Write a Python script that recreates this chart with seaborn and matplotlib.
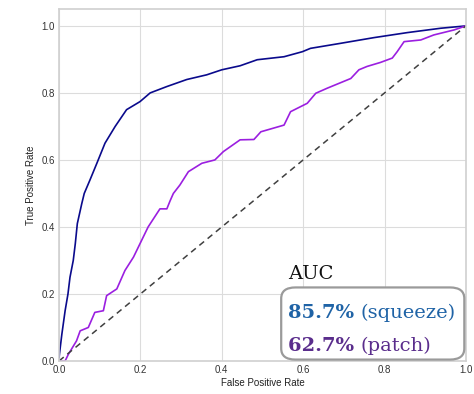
import matplotlib
matplotlib.use("Agg")
import matplotlib.pyplot as plt
import seaborn as sns
import pandas as pd
from matplotlib.patches import FancyBboxPatch

# ROC curve points
squeeze_fpr = [0.0, 0.0, 0.007, 0.015, 0.022, 0.027, 0.035, 0.040, 0.045, 0.056, 0.062, 0.076, 0.093, 0.113,
               0.138, 0.166, 0.199, 0.224, 0.265, 0.314, 0.363, 0.40, 0.445, 0.487, 0.553,
               0.598, 0.618, 0.692, 0.774, 0.856, 0.938, 1.0]
squeeze_tpr = [0.0, 0.02, 0.08, 0.15, 0.20, 0.25, 0.30, 0.35, 0.41, 0.47, 0.50, 0.54, 0.59, 0.65,
               0.70, 0.75, 0.774, 0.80, 0.819, 0.84, 0.854, 0.869, 0.881, 0.899, 0.908,
               0.923, 0.933, 0.948, 0.965, 0.98, 0.993, 1.0]

patch_fpr = [0.0, 0.015, 0.023, 0.043, 0.052, 0.072, 0.088, 0.109, 0.117, 0.142, 0.162, 0.183,
             0.203, 0.219, 0.248, 0.265, 0.273, 0.281, 0.297, 0.318, 0.351, 0.383, 0.404,
             0.445, 0.479, 0.496, 0.553, 0.569, 0.61, 0.631, 0.659, 0.717, 0.737, 0.757,
             0.79, 0.819, 0.831, 0.848, 0.889, 0.921, 0.971, 1.0]
patch_tpr = [0.0, 0.0, 0.02, 0.06, 0.09, 0.10, 0.145, 0.15, 0.195, 0.215, 0.27, 0.31,
             0.36, 0.40, 0.454, 0.454, 0.478, 0.50, 0.525, 0.565, 0.59, 0.60, 0.625,
             0.66, 0.661, 0.684, 0.704, 0.744, 0.769, 0.799, 0.814, 0.843, 0.869, 0.879,
             0.891, 0.904, 0.923, 0.953, 0.958, 0.973, 0.988, 1.0]

chance = [0.0, 1.0]
x_ticks = [0.0, 0.2, 0.4, 0.6, 0.8, 1.0]
auc_title = "AUC"
auc_values = ["85.7%", "62.7%"]
auc_names = ["(squeeze)", "(patch)"]

sns.set_style("whitegrid", {"grid.color": "#dcdcdc", "axes.edgecolor": "#d0d0d0"})
plt.rcParams['font.family'] = ['Liberation Sans', 'DejaVu Sans']

fig = plt.figure(figsize=(4.74, 3.94), dpi=100)
ax = fig.add_axes([0.1245, 0.0838, 0.8585, 0.893])

df_s = pd.DataFrame({"fpr": squeeze_fpr, "tpr": squeeze_tpr})
df_p = pd.DataFrame({"fpr": patch_fpr, "tpr": patch_tpr})
sns.lineplot(data=df_s, x="fpr", y="tpr", sort=False, color="#0a0a8c", lw=1.2, ax=ax)
sns.lineplot(data=df_p, x="fpr", y="tpr", sort=False, color="#9b1fe0", lw=1.2, ax=ax)
ax.plot(chance, chance, color="#404040", ls=(0, (4, 3)), lw=1.1)

ax.set_xlim(0, 1)
ax.set_ylim(0, 1.05)
ax.set_xticks(x_ticks)
ax.set_yticks(x_ticks)
ax.tick_params(labelsize=7, colors="#333333", length=0, pad=3)
ax.set_xlabel("False Positive Rate", fontsize=7, color="#222222", labelpad=2)
ax.set_ylabel("True Positive Rate", fontsize=7, color="#222222", labelpad=4)
for s in ax.spines.values():
    s.set_color("#d0d0d0")
    s.set_linewidth(1.2)

box = FancyBboxPatch((0.546, 0.004), 0.45, 0.205, boxstyle="round,pad=0,rounding_size=0.035",
                     transform=ax.transAxes, facecolor="white", edgecolor="#9a9a9a",
                     lw=1.6, zorder=5, mutation_aspect=0.9)
ax.add_patch(box)
serif = ['DejaVu Serif']
ax.text(0.563, 0.232, auc_title, transform=ax.transAxes, fontsize=14, family=serif,
        color="#111111", zorder=6)
colors = ["#1f63a6", "#5a2d8c"]
ys = [0.122, 0.029]
for v, n, c, y in zip(auc_values, auc_names, colors, ys):
    t = ax.text(0.563, y, v + " ", transform=ax.transAxes, fontsize=14, family=serif,
                fontweight="bold", color=c, zorder=6)
    fig.canvas.draw()
    bb = t.get_window_extent()
    x_end = ax.transAxes.inverted().transform((bb.x1, bb.y0))[0]
    ax.text(x_end, y, n, transform=ax.transAxes, fontsize=14, family=serif,
            color=c, zorder=6)

fig.savefig("out.png", dpi=100)
